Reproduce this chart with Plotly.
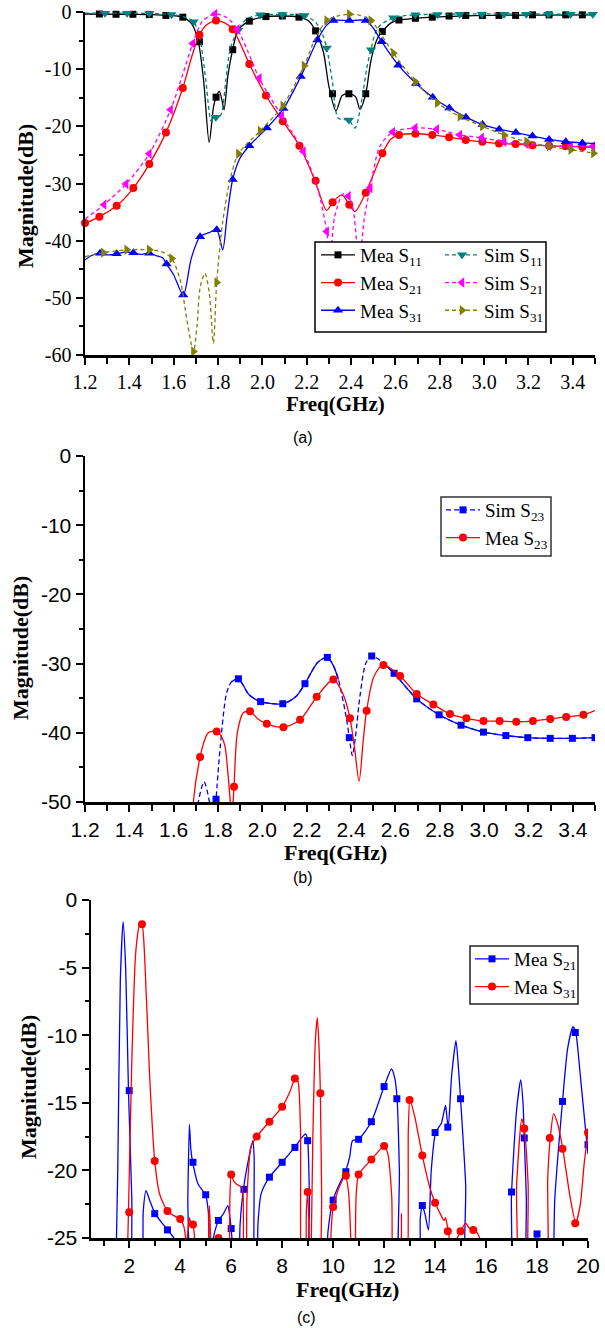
import plotly.graph_objects as go

W, H = 605, 1328

# ---------------- tick labels ----------------
ab_x_ticks = [1.2, 1.4, 1.6, 1.8, 2.0, 2.2, 2.4, 2.6, 2.8, 3.0, 3.2, 3.4]
ab_x_labels = ["1.2", "1.4", "1.6", "1.8", "2.0", "2.2", "2.4", "2.6", "2.8", "3.0", "3.2", "3.4"]
a_y_ticks = [0, -10, -20, -30, -40, -50, -60]
a_y_labels = ["0", "-10", "-20", "-30", "-40", "-50", "-60"]
b_y_ticks = [0, -10, -20, -30, -40, -50]
b_y_labels = ["0", "-10", "-20", "-30", "-40", "-50"]
c_x_ticks = [2, 4, 6, 8, 10, 12, 14, 16, 18, 20]
c_x_labels = ["2", "4", "6", "8", "10", "12", "14", "16", "18", "20"]
c_y_ticks = [0, -5, -10, -15, -20, -25]
c_y_labels = ["0", "-5", "-10", "-15", "-20", "-25"]

# ---------------- Panel (a) data ----------------
a_mea_s11_f = [1.2, 1.4, 1.5, 1.58, 1.64, 1.68, 1.71, 1.735, 1.76, 1.78, 1.795, 1.806, 1.818, 1.827, 1.845, 1.866, 1.89, 1.94, 2.0, 2.09, 2.165, 2.21, 2.24, 2.275, 2.3, 2.332, 2.36, 2.39, 2.42, 2.44, 2.466, 2.49, 2.52, 2.541, 2.58, 2.616, 2.69, 2.77, 3.0, 3.5]
a_mea_s11_db = [-0.35, -0.4, -0.45, -0.6, -0.9, -2.0, -5.0, -12.0, -22.8, -16.5, -14.5, -13.9, -15.5, -17.1, -11.0, -6.6, -3.2, -1.6, -0.9, -0.7, -0.9, -1.6, -3.3, -7.0, -13.0, -17.3, -14.6, -14.3, -14.8, -17.0, -14.3, -8.4, -4.5, -3.4, -1.9, -1.4, -1.1, -0.9, -0.6, -0.5]
a_mea_s11_mk_f = [1.265, 1.34, 1.416, 1.49, 1.565, 1.641, 1.716, 1.791, 1.866, 1.941, 2.016, 2.09, 2.165, 2.24, 2.316, 2.39, 2.466, 2.541, 2.616, 2.69, 2.766, 2.842, 2.917, 2.992, 3.067, 3.142, 3.218, 3.293, 3.368, 3.443]
a_mea_s11_mk_db = [-0.35, -0.4, -0.4, -0.45, -0.6, -0.9, -5.2, -14.9, -6.6, -1.6, -0.8, -0.7, -0.9, -3.3, -14.3, -14.3, -14.3, -3.4, -1.4, -1.1, -0.9, -0.7, -0.6, -0.6, -0.6, -0.6, -0.5, -0.5, -0.5, -0.5]

a_sim_s11_f = [1.2, 1.5, 1.6, 1.65, 1.69, 1.72, 1.745, 1.771, 1.79, 1.8, 1.816, 1.835, 1.854, 1.887, 1.93, 1.99, 2.09, 2.19, 2.24, 2.27, 2.29, 2.315, 2.343, 2.39, 2.418, 2.448, 2.47, 2.489, 2.52, 2.59, 2.69, 3.5]
a_sim_s11_db = [-0.2, -0.25, -0.5, -0.9, -1.7, -5.0, -12.0, -19.2, -18.4, -18.6, -17.7, -12.0, -6.6, -3.3, -1.2, -0.5, -0.45, -0.6, -1.8, -3.8, -6.3, -12.0, -18.6, -18.9, -20.3, -15.4, -10.0, -6.6, -2.8, -1.0, -0.5, -0.4]
a_sim_s11_mk_f = [1.29, 1.39, 1.49, 1.59, 1.69, 1.79, 1.89, 1.99, 2.09, 2.19, 2.29, 2.39, 2.49, 2.59, 2.69, 2.79, 2.89, 2.99, 3.09, 3.19, 3.29, 3.39, 3.49]
a_sim_s11_mk_db = [-0.2, -0.2, -0.25, -0.45, -1.7, -18.4, -3.2, -0.5, -0.45, -0.6, -6.3, -18.9, -6.6, -1.0, -0.5, -0.45, -0.4, -0.4, -0.4, -0.4, -0.4, -0.4, -0.4]

a_mea_s21_f = [1.2, 1.265, 1.343, 1.418, 1.49, 1.565, 1.641, 1.68, 1.716, 1.75, 1.791, 1.83, 1.866, 1.9, 1.941, 2.016, 2.092, 2.167, 2.237, 2.29, 2.317, 2.358, 2.392, 2.418, 2.466, 2.541, 2.58, 2.616, 2.69, 2.766, 2.842, 2.917, 2.992, 3.067, 3.142, 3.218, 3.293, 3.368, 3.443, 3.5]
a_mea_s21_db = [-37.0, -35.8, -33.9, -30.8, -26.6, -21.1, -13.3, -8.0, -4.0, -2.2, -1.5, -1.9, -3.0, -5.5, -9.1, -14.6, -19.1, -23.4, -29.5, -34.7, -33.3, -32.0, -33.7, -34.9, -31.6, -24.7, -22.2, -21.5, -21.3, -21.5, -21.9, -22.4, -22.7, -23.0, -23.1, -23.3, -23.4, -23.5, -23.6, -23.7]
a_mea_s21_mk_f = [1.2, 1.265, 1.343, 1.418, 1.49, 1.565, 1.641, 1.716, 1.791, 1.866, 1.941, 2.016, 2.092, 2.167, 2.24, 2.317, 2.392, 2.466, 2.541, 2.616, 2.69, 2.766, 2.842, 2.917, 2.992, 3.067, 3.142, 3.218, 3.293, 3.368, 3.443]
a_mea_s21_mk_db = [-36.9, -35.8, -33.9, -30.8, -26.6, -21.1, -13.3, -4.0, -1.5, -3.0, -9.1, -14.6, -19.1, -23.4, -29.5, -33.3, -33.7, -31.6, -24.7, -21.5, -21.3, -21.5, -21.9, -22.4, -22.7, -23.0, -23.1, -23.3, -23.4, -23.5, -23.6]

a_sim_s21_f = [1.2, 1.286, 1.385, 1.49, 1.586, 1.64, 1.686, 1.73, 1.786, 1.84, 1.887, 1.93, 1.986, 2.087, 2.185, 2.25, 2.29, 2.305, 2.325, 2.365, 2.4, 2.436, 2.46, 2.486, 2.53, 2.588, 2.689, 2.786, 2.89, 2.989, 3.09, 3.19, 3.29, 3.39, 3.5]
a_sim_s21_db = [-36.2, -33.7, -30.1, -24.8, -17.1, -11.0, -5.5, -1.6, -0.35, -1.0, -3.0, -6.5, -11.6, -18.2, -24.4, -31.0, -38.4, -44.0, -36.0, -31.8, -33.0, -44.0, -36.0, -30.8, -23.5, -21.0, -20.3, -20.5, -21.5, -22.0, -22.7, -23.1, -23.4, -23.5, -23.5]
a_sim_s21_mk_f = [1.286, 1.385, 1.49, 1.586, 1.686, 1.786, 1.887, 1.986, 2.087, 2.185, 2.29, 2.388, 2.486, 2.588, 2.689, 2.786, 2.89, 2.989, 3.09, 3.19, 3.29, 3.39, 3.49]
a_sim_s21_mk_db = [-33.7, -30.1, -24.8, -17.1, -5.5, -0.35, -3.0, -11.6, -18.2, -24.4, -38.4, -32.2, -30.8, -21.0, -20.3, -20.5, -21.5, -22.0, -22.7, -23.1, -23.4, -23.5, -23.5]

a_mea_s31_f = [1.2, 1.23, 1.268, 1.3, 1.343, 1.38, 1.418, 1.45, 1.49, 1.52, 1.55, 1.568, 1.6, 1.643, 1.68, 1.719, 1.76, 1.794, 1.821, 1.84, 1.866, 1.9, 1.941, 2.02, 2.095, 2.173, 2.248, 2.29, 2.32, 2.392, 2.467, 2.5, 2.538, 2.613, 2.693, 2.768, 2.843, 2.918, 2.993, 3.068, 3.143, 3.218, 3.293, 3.368, 3.443, 3.5]
a_mea_s31_db = [-43.4, -42.6, -42.2, -42.5, -42.3, -42.0, -42.1, -42.4, -42.2, -42.6, -43.0, -44.1, -46.0, -49.5, -43.0, -39.3, -38.6, -38.1, -41.6, -36.0, -29.3, -25.5, -23.4, -20.3, -16.9, -11.3, -4.9, -2.3, -1.5, -1.5, -1.5, -2.8, -5.2, -9.3, -12.5, -14.9, -16.8, -18.4, -19.7, -20.5, -21.1, -21.7, -22.3, -22.7, -22.9, -23.0]
a_mea_s31_mk_f = [1.268, 1.343, 1.418, 1.49, 1.568, 1.643, 1.719, 1.794, 1.866, 1.941, 2.02, 2.095, 2.173, 2.248, 2.32, 2.392, 2.467, 2.538, 2.613, 2.693, 2.768, 2.843, 2.918, 2.993, 3.068, 3.143, 3.218, 3.293, 3.368, 3.443]
a_mea_s31_mk_db = [-42.2, -42.3, -42.1, -42.2, -44.1, -49.5, -39.3, -38.1, -29.3, -23.4, -20.3, -16.9, -11.3, -4.9, -1.5, -1.5, -1.5, -5.2, -9.3, -12.5, -14.9, -16.8, -18.4, -19.7, -20.5, -21.1, -21.7, -22.3, -22.7, -22.9]

a_sim_s31_f = [1.2, 1.283, 1.388, 1.49, 1.55, 1.591, 1.63, 1.66, 1.689, 1.705, 1.72, 1.741, 1.76, 1.779, 1.794, 1.82, 1.854, 1.892, 1.99, 2.092, 2.188, 2.24, 2.29, 2.34, 2.392, 2.44, 2.489, 2.54, 2.591, 2.689, 2.789, 2.891, 2.992, 3.09, 3.192, 3.293, 3.391, 3.5]
a_sim_s31_db = [-42.8, -42.1, -41.6, -41.6, -42.0, -43.1, -47.0, -54.0, -59.4, -55.0, -48.0, -45.7, -49.0, -57.9, -47.3, -37.0, -29.4, -24.8, -20.8, -16.4, -9.4, -4.5, -1.5, -0.7, -0.4, -0.6, -1.5, -4.2, -7.2, -12.2, -15.9, -18.3, -20.0, -21.5, -22.7, -23.5, -24.1, -24.7]
a_sim_s31_mk_f = [1.283, 1.388, 1.49, 1.591, 1.689, 1.794, 1.892, 1.99, 2.092, 2.188, 2.29, 2.392, 2.489, 2.591, 2.689, 2.789, 2.891, 2.992, 3.09, 3.192, 3.293, 3.391, 3.493]
a_sim_s31_mk_db = [-42.1, -41.6, -41.6, -43.1, -59.4, -47.3, -24.8, -20.8, -16.4, -9.4, -1.5, -0.4, -1.5, -7.2, -12.2, -15.9, -18.3, -20.0, -21.5, -22.7, -23.5, -24.1, -24.7]

# ---------------- Panel (b) data ----------------
b_sim_s23_f = [1.70, 1.711, 1.737, 1.761, 1.775, 1.785, 1.791, 1.81, 1.839, 1.862, 1.892, 1.94, 1.992, 2.092, 2.15, 2.192, 2.25, 2.293, 2.32, 2.343, 2.38, 2.392, 2.406, 2.42, 2.44, 2.467, 2.493, 2.546, 2.594, 2.696, 2.797, 2.896, 2.997, 3.098, 3.197, 3.298, 3.398, 3.5]
b_sim_s23_db = [-55.0, -50.0, -47.1, -50.0, -55.0, -52.0, -49.6, -42.0, -34.2, -32.6, -32.2, -34.5, -35.5, -35.8, -34.8, -32.9, -29.8, -29.1, -30.3, -32.3, -38.1, -40.7, -43.3, -40.5, -34.7, -29.9, -28.9, -29.9, -31.4, -35.1, -37.4, -38.9, -39.9, -40.4, -40.7, -40.8, -40.8, -40.7]
b_sim_s23_mk_f = [1.791, 1.892, 1.992, 2.092, 2.192, 2.293, 2.392, 2.493, 2.594, 2.696, 2.797, 2.896, 2.997, 3.098, 3.197, 3.298, 3.398, 3.5]
b_sim_s23_mk_db = [-49.6, -32.2, -35.5, -35.8, -32.9, -29.1, -40.7, -28.9, -31.4, -35.1, -37.4, -38.9, -39.9, -40.4, -40.7, -40.8, -40.8, -40.7]

b_mea_s23_f = [1.685, 1.689, 1.719, 1.74, 1.756, 1.794, 1.815, 1.831, 1.845, 1.857, 1.863, 1.872, 1.887, 1.914, 1.944, 1.98, 2.02, 2.095, 2.17, 2.245, 2.32, 2.365, 2.395, 2.415, 2.436, 2.455, 2.47, 2.504, 2.546, 2.621, 2.696, 2.771, 2.846, 2.92, 2.997, 3.07, 3.145, 3.22, 3.298, 3.37, 3.448, 3.5]
b_mea_s23_db = [-55.0, -49.9, -43.5, -41.0, -40.0, -39.8, -40.5, -41.9, -46.0, -50.5, -52.0, -47.8, -40.0, -37.1, -36.9, -38.0, -38.7, -39.2, -38.1, -34.8, -32.3, -34.5, -37.9, -42.0, -47.0, -41.0, -36.8, -31.8, -30.2, -31.8, -34.4, -35.9, -37.3, -37.9, -38.3, -38.3, -38.4, -38.3, -38.0, -37.7, -37.4, -36.8]
b_mea_s23_mk_f = [1.719, 1.794, 1.872, 1.944, 2.02, 2.095, 2.17, 2.245, 2.32, 2.395, 2.47, 2.546, 2.621, 2.696, 2.771, 2.846, 2.92, 2.997, 3.07, 3.145, 3.22, 3.298, 3.37, 3.448]
b_mea_s23_mk_db = [-43.5, -39.8, -47.8, -36.9, -38.7, -39.2, -38.1, -34.8, -32.3, -37.9, -36.8, -30.2, -31.8, -34.4, -35.9, -37.3, -37.9, -38.3, -38.3, -38.4, -38.3, -38.0, -37.7, -37.4]

# ---------------- Panel (c) data ----------------
c_s21_f = [1.45, 1.55, 1.65, 1.76, 1.86, 1.97, 2.1, 2.2, 2.45, 2.55, 2.66, 2.8, 3.01, 3.25, 3.51, 3.84, 3.9,
           4.25, 4.3, 4.36, 4.42, 4.49, 4.7, 4.99, 5.1, 5.2, 5.25, 5.3, 5.5, 5.7, 5.87, 5.95, 6.0, 6.1, 6.2,
           6.25, 6.35, 6.48, 6.7, 6.85, 6.9, 6.94, 7.0, 7.05, 7.18, 7.5, 8.0, 8.49, 8.8, 8.92, 9.0, 9.07, 9.14,
           9.6, 9.8, 9.99, 10.25, 10.48, 10.65, 10.76, 11.0, 11.5, 12.0, 12.29, 12.42, 12.51, 12.6, 12.68,
           13.3, 13.42, 13.5, 13.6, 13.74, 13.85, 14.02, 14.25, 14.41, 14.47, 14.52, 14.65, 14.82, 14.92, 15.0, 15.2, 15.34,
           16.8, 17.0, 17.2, 17.36, 17.45, 17.5, 17.58, 17.64, 17.85, 17.95, 18.0, 18.08, 18.2,
           18.5, 18.7, 19.0, 19.2, 19.41, 19.52, 19.7, 19.96, 20.0]
c_s21_db = [-30, -20, -6, -1.6, -5, -14.1, -22, -30, -30, -23, -21.5, -22.2, -23.2, -23.8, -24.4, -25.3, -30,
            -30, -22, -16.6, -18.5, -19.4, -21, -21.8, -23, -30, -30, -25, -23.7, -23.2, -22.6, -23.5, -24.3, -27, -30,
            -30, -24, -21.4, -19, -17.8, -19, -30, -30, -24, -21.7, -20.5, -19.4, -18.3, -17.5, -17.3, -17.8, -22, -30,
            -30, -24.5, -22.2, -21, -20.1, -19, -17.8, -17.7, -16.4, -13.8, -12.5, -13.2, -14.7, -20, -30,
            -30, -23.5, -22.6, -23.2, -24.4, -20, -17.2, -16.5, -15.2, -16.2, -16.8, -13, -10.4, -12.5, -14.7, -21, -30,
            -30, -21.6, -15.5, -13.3, -15, -17.6, -22, -30, -30, -24.9, -24.7, -26, -30,
            -30, -22, -14.9, -11, -9.37, -9.8, -13, -18.1, -18.8]
c_s21_mk_f = [2.0, 3.0, 3.5, 4.5, 5.0, 5.5, 6.0, 6.5, 7.5, 8.0, 8.5, 9.0, 10.0, 10.5, 11.0, 11.5, 12.0, 12.5, 13.5, 14.0, 14.5, 15.0, 17.0, 17.5, 18.0, 19.0, 19.5, 20.0]
c_s21_mk_db = [-14.1, -23.2, -24.4, -19.4, -21.8, -23.7, -24.3, -21.4, -20.5, -19.4, -18.3, -17.8, -22.2, -20.1, -17.7, -16.4, -13.8, -14.7, -22.6, -17.2, -16.8, -14.7, -21.6, -17.6, -24.7, -14.9, -9.8, -18.1]

c_s31_f = [1.85, 1.93, 1.97, 2.1, 2.25, 2.4, 2.5, 2.6, 2.8, 3.0, 3.2, 3.5, 3.8, 4.0, 4.15, 4.25, 4.3, 4.36, 4.42, 4.5, 4.58, 4.65,
           5.05, 5.12, 5.15, 5.2, 5.25, 5.3, 5.5, 5.7, 5.85,
           5.88, 5.95, 6.0, 6.1, 6.2, 6.43, 6.48, 6.5, 6.55, 6.62, 6.78, 7.0, 7.5, 8.0, 8.3, 8.51, 8.62, 8.72, 8.8,
           8.88, 8.95, 9.0, 9.05, 9.1, 9.2, 9.3, 9.38, 9.45, 9.5, 9.55, 9.6,
           9.82, 9.92, 10.0, 10.25, 10.48, 10.6, 10.7, 10.74,
           10.8, 10.9, 11.0, 11.5, 12.0, 12.15, 12.3, 12.42, 12.6, 12.68, 12.74,
           12.85, 12.95, 13.01, 13.2, 13.5, 13.8, 14.0, 14.2, 14.35, 14.41, 14.47, 14.52, 14.6, 14.8, 15.0, 15.2, 15.35, 15.5, 15.65, 15.83, 15.9,
           17.05, 17.2, 17.4, 17.5, 17.65, 17.77,
           18.3, 18.42, 18.52, 18.65, 18.8, 19.01, 19.3, 19.52, 19.7, 19.85, 20.0]
c_s31_db = [-30, -26, -23.1, -12, -4, -1.9, -1.8, -4, -13, -19.3, -21.8, -23.0, -23.4, -23.6, -24.2, -25.5, -24.5, -23.5, -23.9, -24.0, -25.5, -30,
            -30, -23.5, -22.6, -25.5, -30, -26, -25.0, -26, -30,
            -30, -22, -20.3, -20.8, -21.0, -21.3, -24, -30, -30, -22, -18.2, -17.5, -16.4, -15.3, -14.2, -13.2, -13.4, -17, -30,
            -30, -23, -21.6, -24, -30, -18, -10.5, -8.7, -11, -14.3, -22, -30,
            -30, -24.5, -22.7, -21.2, -20.4, -21.5, -25.5, -30,
            -30, -22, -20.3, -19.2, -18.2, -18.8, -22, -30, -30, -23.2, -30,
            -30, -17, -14.8, -16, -18.9, -21.3, -22.4, -23.2, -23.7, -23.5, -24, -24.5, -25.3, -25.2, -24.5, -23.9, -24.3, -24.4, -24.6, -25.5, -30,
            -30, -21, -16.2, -16.9, -21, -30,
            -30, -20.5, -17.6, -15.8, -16.5, -18.4, -22, -23.9, -22.5, -19.5, -17.2]
c_s31_mk_f = [2.0, 2.5, 3.0, 3.5, 4.0, 4.5, 5.5, 6.0, 7.0, 7.5, 8.0, 8.5, 9.0, 9.5, 10.0, 10.5, 11.0, 11.5, 12.0, 13.0, 13.5, 14.0, 14.5, 15.0, 15.5, 17.5, 18.5, 19.0, 19.5, 20.0]
c_s31_mk_db = [-23.1, -1.8, -19.3, -23.0, -23.6, -24.0, -25.0, -20.3, -17.5, -16.4, -15.3, -13.2, -21.6, -14.3, -22.7, -20.4, -20.3, -19.2, -18.2, -14.8, -18.9, -22.4, -24.5, -24.5, -24.4, -16.9, -17.6, -18.4, -23.9, -17.2]

# ---------------- styling ----------------
BLACK, TEAL, RED, MAGENTA, BLUE, OLIVE = "#000000", "#008080", "#FF0000", "#FF00FF", "#0000FF", "#808000"
SERIF = "Liberation Serif, Times New Roman, serif"
SANS = "Liberation Sans, Arial, sans-serif"


def px_x(p):
    return p / W


def px_y(p):
    return 1 - p / H


fig = go.Figure()


def add_series(lf, ld, mf, md, name, color, symbol, msize, dash, ax, legend, clip=True, smooth=0.8):
    xa, ya = ax
    fig.add_trace(go.Scatter(x=lf, y=ld, mode="lines", line=dict(color=color, width=1.3, dash=dash, shape="spline", smoothing=smooth),
                             xaxis=xa, yaxis=ya, showlegend=False, hoverinfo="skip"))
    fig.add_trace(go.Scatter(x=mf, y=md, mode="markers", marker=dict(color=color, symbol=symbol, size=msize, line=dict(width=0)),
                             xaxis=xa, yaxis=ya, showlegend=False, cliponaxis=clip))
    fig.add_trace(go.Scatter(x=[None], y=[None], mode="lines+markers", name=name,
                             line=dict(color=color, width=1.3, dash=dash),
                             marker=dict(color=color, symbol=symbol, size=msize, line=dict(width=0)),
                             xaxis=xa, yaxis=ya, legend=legend, legendgroup=name))


AX_A, AX_B, AX_C = ("x", "y"), ("x2", "y2"), ("x3", "y3")

add_series(a_mea_s11_f, a_mea_s11_db, a_mea_s11_mk_f, a_mea_s11_mk_db, "Mea S<sub>11</sub>", BLACK, "square", 7, "solid", AX_A, "legend", clip=False)
add_series(a_sim_s11_f, a_sim_s11_db, a_sim_s11_mk_f, a_sim_s11_mk_db, "Sim S<sub>11</sub>", TEAL, "triangle-down", 9, "4px,3px", AX_A, "legend2", clip=False)
add_series(a_mea_s21_f, a_mea_s21_db, a_mea_s21_mk_f, a_mea_s21_mk_db, "Mea S<sub>21</sub>", RED, "circle", 8, "solid", AX_A, "legend", clip=False)
add_series(a_sim_s21_f, a_sim_s21_db, a_sim_s21_mk_f, a_sim_s21_mk_db, "Sim S<sub>21</sub>", MAGENTA, "triangle-left", 9, "4px,3px", AX_A, "legend2", clip=False)
add_series(a_mea_s31_f, a_mea_s31_db, a_mea_s31_mk_f, a_mea_s31_mk_db, "Mea S<sub>31</sub>", BLUE, "triangle-up", 9, "solid", AX_A, "legend", clip=False)
add_series(a_sim_s31_f, a_sim_s31_db, a_sim_s31_mk_f, a_sim_s31_mk_db, "Sim S<sub>31</sub>", OLIVE, "triangle-right", 9, "4px,3px", AX_A, "legend2", clip=False)

# panel b: sim S23 dashed over full curve, solid over flat stretches
add_series(b_sim_s23_f, b_sim_s23_db, b_sim_s23_mk_f, b_sim_s23_mk_db, "Sim S<sub>23</sub>", BLUE, "square", 7, "5px,3px", AX_B, "legend3")
solid_idx = [i for i, f in enumerate(b_sim_s23_f) if (1.862 <= f <= 2.343) or f >= 2.546]
sx, sy = [], []
prev = None
for i in solid_idx:
    if prev is not None and i != prev + 1:
        sx.append(None)
        sy.append(None)
    sx.append(b_sim_s23_f[i])
    sy.append(b_sim_s23_db[i])
    prev = i
fig.add_trace(go.Scatter(x=sx, y=sy, mode="lines", line=dict(color=BLUE, width=1.3, shape="spline", smoothing=0.8),
                         xaxis="x2", yaxis="y2", showlegend=False, hoverinfo="skip", connectgaps=False))
add_series(b_mea_s23_f, b_mea_s23_db, b_mea_s23_mk_f, b_mea_s23_mk_db, "Mea S<sub>23</sub>", RED, "circle", 8, "solid", AX_B, "legend3")

add_series(c_s21_f, c_s21_db, c_s21_mk_f, c_s21_mk_db, "Mea S<sub>21</sub>", BLUE, "square", 7, "solid", AX_C, "legend4", smooth=0.6)
add_series(c_s31_f, c_s31_db, c_s31_mk_f, c_s31_mk_db, "Mea S<sub>31</sub>", RED, "circle", 8, "solid", AX_C, "legend4", smooth=0.6)


def axis_cfg(dom, rng, tv, tt, mdtick, font, anchor, minor_len):
    return dict(domain=dom, range=rng, tickmode="array", tickvals=tv, ticktext=tt,
                showline=True, linecolor="black", linewidth=2.5,
                ticks="outside", ticklen=7, tickwidth=2, tickcolor="black", showgrid=False, zeroline=False,
                tickfont=dict(family=font, size=20 if font == SERIF else 21, color="black"),
                minor=dict(dtick=mdtick, tick0=0, ticks="outside", ticklen=minor_len, tickwidth=2, tickcolor="black", showgrid=False),
                anchor=anchor, fixedrange=True, automargin=False)


dom_ab = [px_x(85), px_x(595)]
dom_c = [px_x(91), px_x(588)]

leg_font = dict(family=SERIF, size=19, color="black")


def legend_cfg(xp, yp, gap):
    return dict(x=px_x(xp), y=px_y(yp), xanchor="left", yanchor="top", bgcolor="rgba(0,0,0,0)", borderwidth=0,
                font=leg_font, itemwidth=34, tracegroupgap=gap, traceorder="normal")


fig.update_layout(
    width=W, height=H, margin=dict(l=0, r=0, t=0, b=0, pad=0, autoexpand=False),
    paper_bgcolor="white", plot_bgcolor="white",
    xaxis=axis_cfg(dom_ab, [1.2, 3.5], ab_x_ticks, ab_x_labels, 0.1, SERIF, "y", 6),
    yaxis=axis_cfg([px_y(355), px_y(12)], [-60, 0], a_y_ticks, a_y_labels, 5, SERIF, "x", 4),
    xaxis2=axis_cfg(dom_ab, [1.2, 3.5], ab_x_ticks, ab_x_labels, 0.1, SANS, "y2", 6),
    yaxis2=axis_cfg([px_y(802), px_y(456)], [-50, 0], b_y_ticks, b_y_labels, 5, SANS, "x2", 4),
    xaxis3=axis_cfg(dom_c, [0.5, 20], c_x_ticks, c_x_labels, 1, SANS, "y3", 5),
    yaxis3=axis_cfg([px_y(1238), px_y(900)], [-25, 0], c_y_ticks, c_y_labels, 2.5, SANS, "x3", 4),
    legend=legend_cfg(316, 236, 5),
    legend2=legend_cfg(440, 236, 5),
    legend3=legend_cfg(441, 491, 5),
    legend4=legend_cfg(470, 940, 6),
    showlegend=True,
)

# legend frames
for (x0, y0, x1, y1, col) in [(315, 242, 546, 332, "black"), (441, 497, 551, 556, "#333333"), (470, 946, 578, 1004, "#222222")]:
    fig.add_shape(type="rect", xref="paper", yref="paper", x0=px_x(x0), x1=px_x(x1), y0=px_y(y1), y1=px_y(y0),
                  line=dict(color=col, width=1.5), fillcolor="white", layer="above")

# axis titles and captions
ann = []
for (xc, yc, size) in [(25, 196, 22), (20, 648, 22), (28, 1087, 22)]:
    ann.append(dict(x=px_x(xc), y=px_y(yc), xref="paper", yref="paper", text="<b>Magnitude(dB)</b>", textangle=-90,
                    showarrow=False, font=dict(family=SERIF, size=size, color="black"), xanchor="center", yanchor="middle"))
for (xc, yc, size) in [(335, 404, 21), (335, 852, 22), (348, 1289, 22)]:
    ann.append(dict(x=px_x(xc), y=px_y(yc), xref="paper", yref="paper", text="<b>Freq(GHz)</b>",
                    showarrow=False, font=dict(family=SERIF, size=size, color="black"), xanchor="center", yanchor="middle"))
for (txt, xc, yc) in [("(a)", 303, 437), ("(b)", 303, 877), ("(c)", 306, 1317)]:
    ann.append(dict(x=px_x(xc), y=px_y(yc), xref="paper", yref="paper", text=txt,
                    showarrow=False, font=dict(family=SANS, size=16, color="black"), xanchor="center", yanchor="middle"))
fig.update_layout(annotations=ann)

fig.write_html("out.html", config={"displayModeBar": False, "staticPlot": True},
               post_script="document.body.style.margin='0';document.body.style.padding='0';document.body.style.overflow='hidden';")
